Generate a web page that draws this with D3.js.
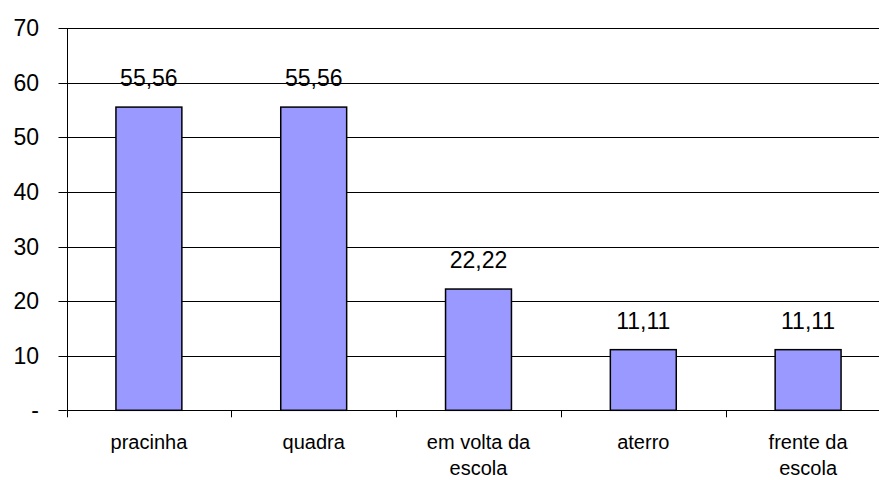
<!DOCTYPE html>
<html>
<head>
<meta charset="utf-8">
<script src="https://cdn.jsdelivr.net/npm/d3@7"></script>
<style>
  body { margin: 0; background: #fff; }
  svg { display: block; }
  text { font-family: "Liberation Sans", Arial, sans-serif; fill: #000; }
</style>
</head>
<body>
<svg id="chart" width="879" height="480"></svg>
<script>
// data
const categories = ["pracinha", "quadra", "em volta da\nescola", "aterro", "frente da\nescola"];
const values = [55.56, 55.56, 22.22, 11.11, 11.11];
const valueLabels = ["55,56", "55,56", "22,22", "11,11", "11,11"];
const yTicks = [0, 10, 20, 30, 40, 50, 60, 70];
const yTickLabels = ["-", "10", "20", "30", "40", "50", "60", "70"];

const svg = d3.select("#chart");
const width = 879, height = 480;

// plot area (right side runs past the picture edge, as in the reference)
const plot = { left: 66.5, right: 890.5, top: 28.3, bottom: 410.3 };

const x = d3.scaleBand()
    .domain(categories)
    .range([plot.left, plot.right])
    .paddingInner(0.6)
    .paddingOuter(0.3);

const y = d3.scaleLinear()
    .domain([0, 70])
    .range([plot.bottom, plot.top]);

// gridlines + left ticks
svg.append("g")
    .selectAll("line")
    .data(yTicks.filter(d => d > 0))
    .join("line")
    .attr("x1", plot.left - 8).attr("x2", width)
    .attr("y1", d => Math.round(y(d)) + 0.5).attr("y2", d => Math.round(y(d)) + 0.5)
    .style("stroke", "#000").style("stroke-width", 1);

// zero tick
svg.append("line")
    .attr("x1", plot.left - 8).attr("x2", plot.left)
    .attr("y1", Math.round(y(0)) + 0.5).attr("y2", Math.round(y(0)) + 0.5)
    .style("stroke", "#000");

// y tick labels
svg.append("g")
    .selectAll("text")
    .data(yTicks)
    .join("text")
    .attr("x", 39)
    .attr("y", d => y(d))
    .attr("dy", "0.35em")
    .attr("text-anchor", "end")
    .style("font-size", "23px")
    .text((d, i) => yTickLabels[i]);

// bars
svg.append("g")
    .selectAll("rect")
    .data(values)
    .join("rect")
    .attr("x", (d, i) => x(categories[i]))
    .attr("y", d => y(d))
    .attr("width", x.bandwidth())
    .attr("height", d => y(0) - y(d))
    .style("fill", "#9999ff")
    .style("stroke", "#000")
    .style("stroke-width", 1.5);

// value labels
svg.append("g")
    .selectAll("text")
    .data(values)
    .join("text")
    .attr("x", (d, i) => x(categories[i]) + x.bandwidth() / 2)
    .attr("y", d => y(d) - 21)
    .attr("text-anchor", "middle")
    .style("font-size", "23px")
    .text((d, i) => valueLabels[i]);

// axes lines
svg.append("line")
    .attr("x1", Math.round(plot.left) + 0.5).attr("x2", Math.round(plot.left) + 0.5)
    .attr("y1", plot.top).attr("y2", plot.bottom + 7)
    .style("stroke", "#000");
svg.append("line")
    .attr("x1", plot.left).attr("x2", width)
    .attr("y1", Math.round(y(0)) + 0.5).attr("y2", Math.round(y(0)) + 0.5)
    .style("stroke", "#000");

// bottom ticks at category boundaries
const step = x.step();
svg.append("g")
    .selectAll("line")
    .data(categories.slice(1))
    .join("line")
    .attr("x1", d => Math.round(x(d) - step * 0.3) + 0.5)
    .attr("x2", d => Math.round(x(d) - step * 0.3) + 0.5)
    .attr("y1", plot.bottom).attr("y2", plot.bottom + 7)
    .style("stroke", "#000");

// category labels
const catLabels = svg.append("g")
    .selectAll("text")
    .data(categories)
    .join("text")
    .attr("x", d => x(d) + x.bandwidth() / 2)
    .attr("y", 449)
    .attr("text-anchor", "middle")
    .style("font-size", "20px");

catLabels.each(function(d) {
    const t = d3.select(this);
    d.split("\n").forEach((line, i) => {
        t.append("tspan")
            .attr("x", t.attr("x"))
            .attr("dy", i === 0 ? 0 : 26)
            .text(line);
    });
});
</script>
</body>
</html>
